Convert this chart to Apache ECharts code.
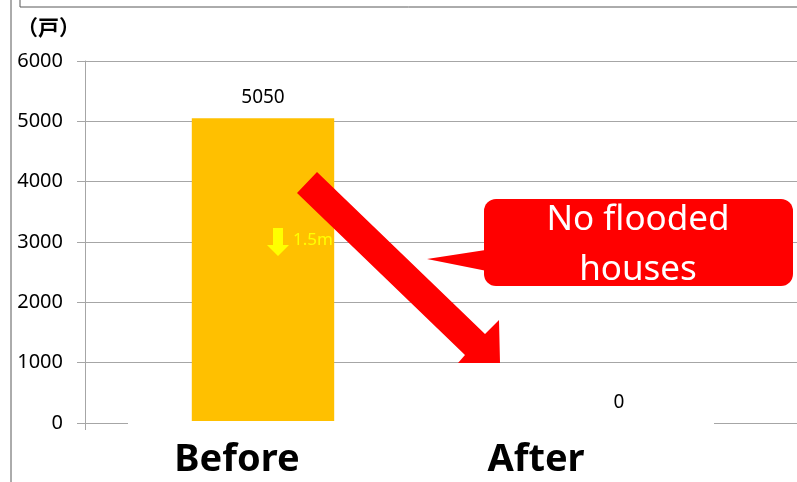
<!DOCTYPE html>
<html>
<head>
<meta charset="utf-8">
<script src="https://cdn.jsdelivr.net/npm/echarts@6/dist/echarts.min.js"></script>
<style>
  html, body { margin: 0; padding: 0; background: #fff; }
  #main { width: 797px; height: 482px; }
</style>
</head>
<body>
<div id="main"></div>
<script>
let categories = ['Before', 'After'];
let houses = [5050, 0];
let yTicks = [0, 1000, 2000, 3000, 4000, 5000, 6000];

let chart = echarts.init(document.getElementById('main'));
let font = '"Noto Sans", "Open Sans", sans-serif';

let option = {
    backgroundColor: '#fff',
    animation: false,
    grid: { left: 85, right: -8, top: 61, bottom: 59 },
    xAxis: {
        type: 'category',
        data: [
            { value: categories[0], textStyle: { padding: [0, 52, 0, 0] } },
            { value: categories[1], textStyle: { padding: [0, 166, 0, 0] } }
        ],
        axisLine: { lineStyle: { color: '#a6a6a6' } },
        axisTick: { show: true, length: 7, lineStyle: { color: '#a6a6a6' } },
        axisLabel: {
            color: '#000', fontSize: 38, fontWeight: 'bold',
            fontFamily: font, margin: 18
        }
    },
    yAxis: {
        type: 'value',
        min: yTicks[0],
        max: yTicks[yTicks.length - 1],
        interval: 1000,
        axisLine: { show: true, lineStyle: { color: '#a6a6a6' } },
        axisTick: { show: true, length: 8, lineStyle: { color: '#a6a6a6' } },
        splitLine: { lineStyle: { color: '#a6a6a6' } },
        axisLabel: {
            color: '#000', fontSize: 20, fontFamily: font, margin: 22,
            formatter: v => String(v)
        }
    },
    series: [{
        type: 'bar',
        data: houses,
        barWidth: '40%',
        itemStyle: { color: '#FFC000' },
        label: {
            show: true, position: 'top', distance: 11,
            color: '#000', fontSize: 19, fontFamily: font
        }
    }],
    graphic: [
        // outer frame pieces
        { type: 'line', z: 100, shape: { x1: 11, y1: 0, x2: 11, y2: 482 }, style: { stroke: '#595959', lineWidth: 1 } },
        { type: 'line', z: 100, shape: { x1: 20, y1: 0, x2: 20, y2: 7 }, style: { stroke: '#595959', lineWidth: 1 } },
        { type: 'line', z: 100, shape: { x1: 20, y1: 7, x2: 797, y2: 7 }, style: { stroke: '#595959', lineWidth: 1 } },
        // text boxes hiding part of the baseline
        { type: 'rect', z: 100, shape: { x: 128, y: 421, width: 586, height: 11 }, style: { fill: '#fff' } },
        // unit label
        { type: 'text', z: 100, left: 17, top: 17, style: { text: '（戸）', fontSize: 21, fontWeight: 'bold', fill: '#000', fontFamily: '"Noto Sans CJK JP", sans-serif' } },
        // yellow depth arrow
        { type: 'polygon', z: 100, shape: { points: [[273, 228], [283, 228], [283, 245], [289, 245], [278, 256], [267, 245], [273, 245]] }, style: { fill: '#FFFF00' } },
        { type: 'text', z: 100, left: 293, top: 232, style: { text: '1.5m', fontSize: 17, fill: '#FFFF00', fontFamily: font } },
        // big red arrow
        { type: 'polygon', z: 100, shape: { points: [[297, 193], [317, 172], [485, 334], [499, 320], [500, 363], [458, 363], [465, 355]] }, style: { fill: '#FF0000' } },
        // callout
        { type: 'polygon', z: 100, shape: { points: [[492, 249], [427, 259], [492, 272]] }, style: { fill: '#FF0000' } },
        { type: 'rect', z: 100, shape: { x: 484, y: 199, width: 309, height: 87, r: 12 }, style: { fill: '#FF0000' } },
        { type: 'text', z: 101, x: 638, y: 245, style: { text: 'No flooded\nhouses', fontSize: 35, lineHeight: 50, fill: '#fff', align: 'center', verticalAlign: 'middle', fontFamily: font } }
    ]
};

chart.setOption(option);
</script>
</body>
</html>
